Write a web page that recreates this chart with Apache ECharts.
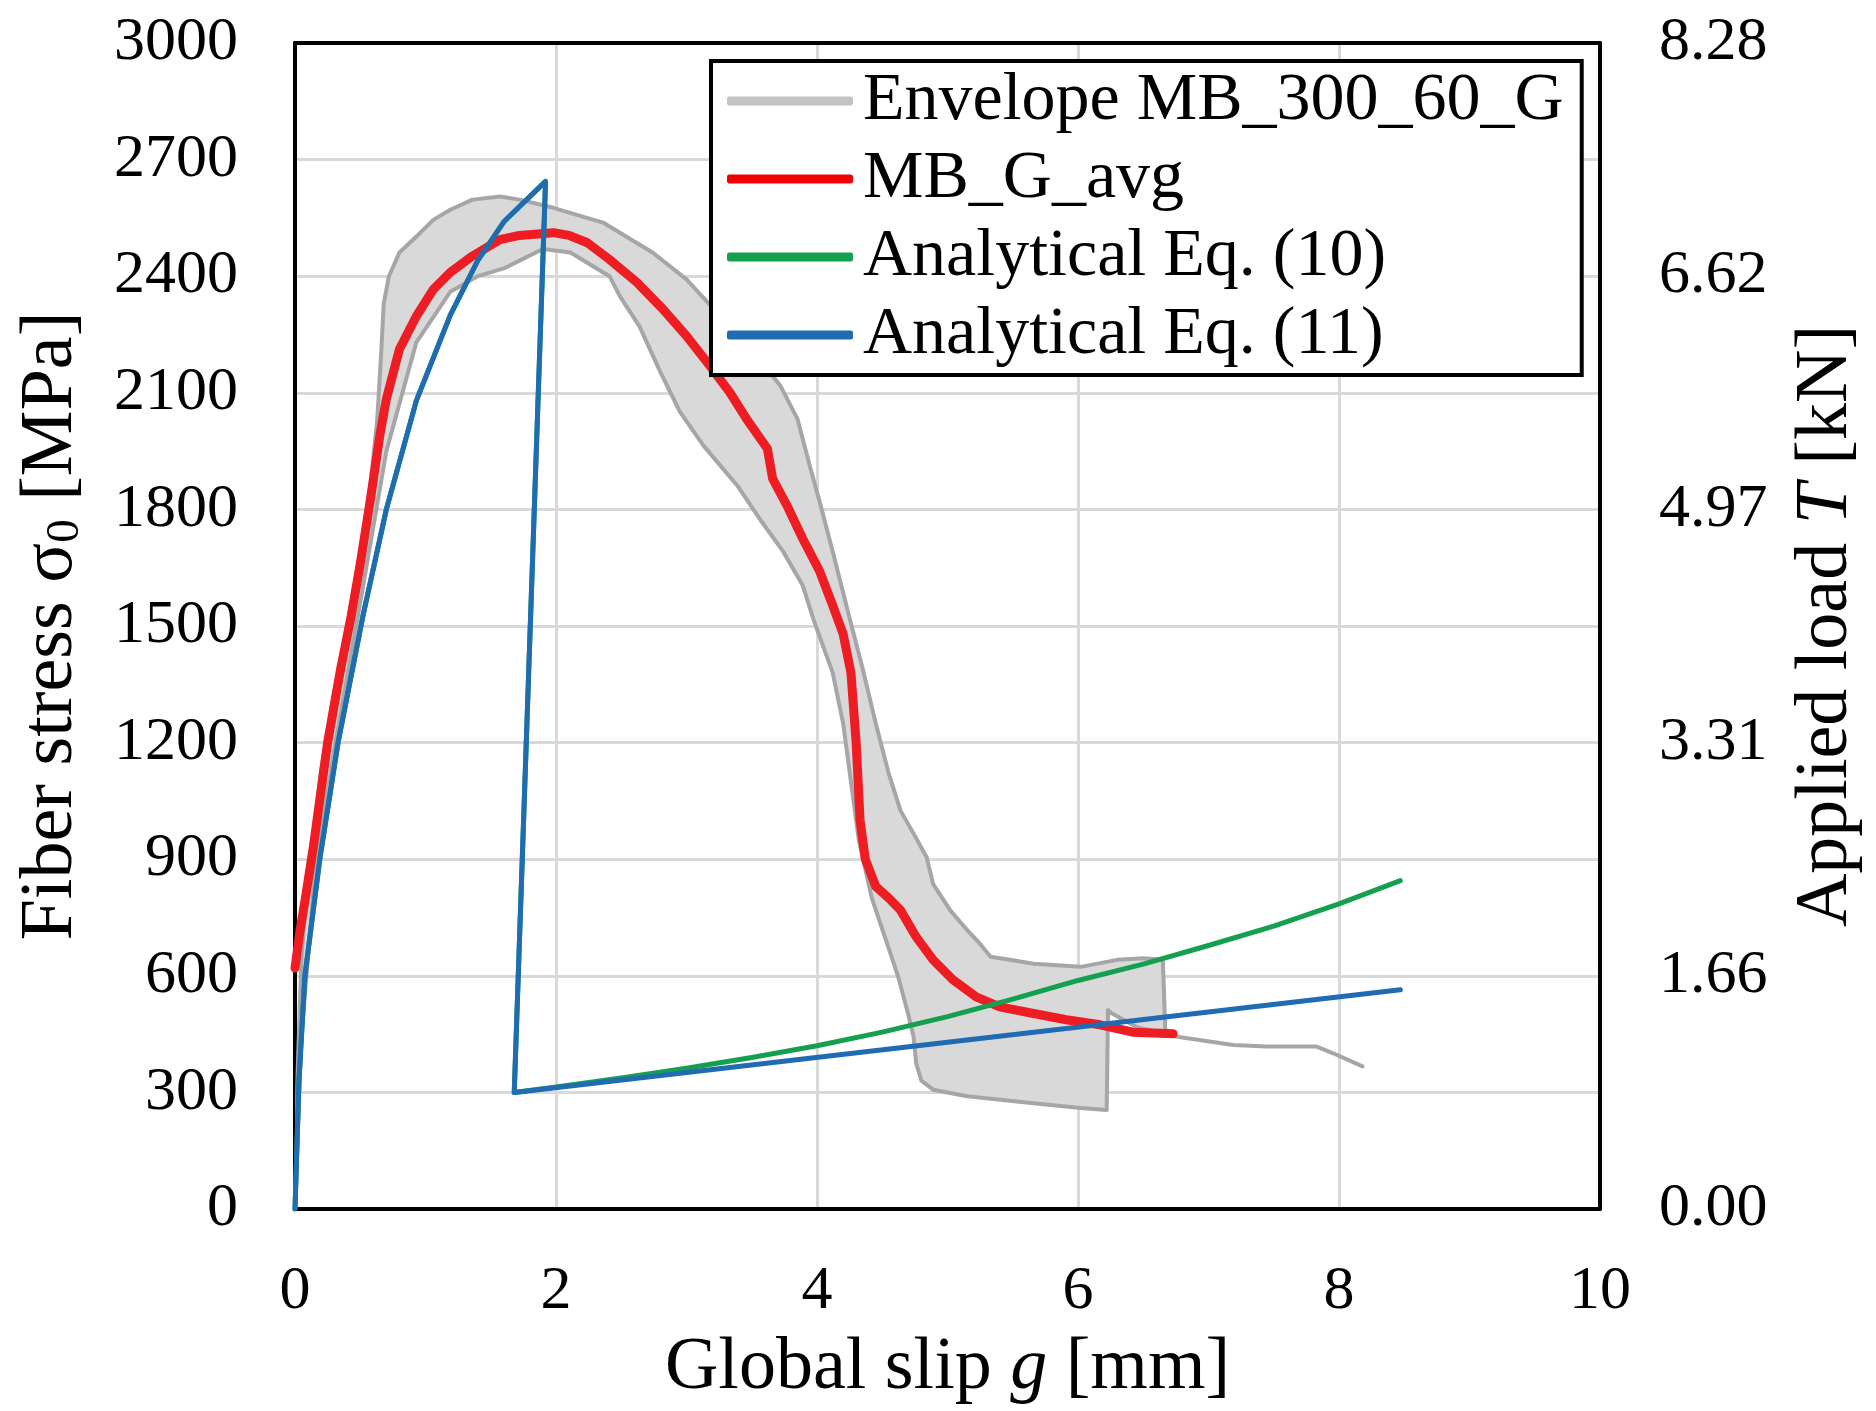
<!DOCTYPE html>
<html><head><meta charset="utf-8">
<script src="https://cdn.jsdelivr.net/npm/echarts@6/dist/echarts.min.js"></script>
<style>html,body{margin:0;padding:0;background:#fff}#c{width:1876px;height:1411px}</style>
</head><body><div id="c"></div>
<script>
// ---- data ----
const X_TICKS = [0, 2, 4, 6, 8, 10];
const STRESS_TICKS = [0, 300, 600, 900, 1200, 1500, 1800, 2100, 2400, 2700, 3000];
const LOAD_TICKS = ['0.00', '1.66', '3.31', '4.97', '6.62', '8.28'];

// Envelope MB_300_60_G : closed outline (upper boundary rightwards, tail, lower boundary back)
const ENV_X = [0, 0.02, 0.05, 0.1, 0.2, 0.3, 0.4, 0.5, 0.58, 0.63, 0.66, 0.68, 0.72, 0.8, 0.93, 1.06, 1.19, 1.36, 1.57, 1.72, 1.98, 2.36, 2.74, 3.0, 3.26, 3.51, 3.72, 3.85, 3.95, 4.02, 4.12, 4.25, 4.35, 4.45, 4.55, 4.64, 4.75, 4.84, 4.89, 5.02, 5.15, 5.25, 5.33, 5.5, 5.66, 6.02, 6.3, 6.5, 6.65, 6.67,
  6.76, 6.93, 7.19, 7.45, 7.83, 7.96, 8.18, 7.96, 7.83, 7.45, 7.19, 6.93, 6.76, 6.67,
  6.45, 6.25, 6.23, 6.22, 6.02, 5.66, 5.15, 4.89, 4.8, 4.76, 4.74, 4.7, 4.62, 4.52, 4.42, 4.32, 4.26, 4.2, 4.12, 3.97, 3.89, 3.74, 3.56, 3.39, 3.13, 2.95, 2.8, 2.64, 2.49, 2.41, 2.11, 1.9, 1.72, 1.6, 1.4, 1.19, 0.93, 0.7, 0.5, 0.3, 0.15, 0.05, 0];
const ENV_Y = [0, 350, 650, 850, 1130, 1330, 1500, 1680, 1870, 2030, 2200, 2330, 2400, 2461, 2502, 2545, 2571, 2597, 2605, 2597, 2576, 2538, 2461, 2392, 2297, 2204, 2118, 2033, 1905, 1820, 1692, 1520, 1390, 1250, 1120, 1025, 960, 905, 836, 769, 718, 682, 649, 640, 631, 623, 641, 645, 641, 451,
  443, 435, 422, 418, 418, 400, 367, 400, 418, 418, 422, 435, 443, 451,
  468, 505, 512, 255, 260, 272, 290, 307, 330, 375, 443, 500, 600, 700, 800, 950, 1100, 1250, 1380, 1520, 1605, 1692, 1776, 1861, 1964, 2051, 2153, 2271, 2348, 2400, 2461, 2470, 2440, 2420, 2400, 2360, 2230, 1950, 1560, 1180, 850, 450, 0];

// MB_G_avg
const AVG_X = [0.0, 0.04, 0.08, 0.14, 0.25, 0.35, 0.43, 0.5, 0.58, 0.65, 0.7, 0.8, 0.93, 1.06, 1.19, 1.35, 1.57, 1.72, 1.98, 2.1, 2.24, 2.41, 2.62, 2.82, 3.0, 3.18, 3.33, 3.46, 3.62, 3.66, 3.77, 3.89, 4.02, 4.12, 4.2, 4.26, 4.3, 4.33, 4.37, 4.45, 4.55, 4.64, 4.76, 4.89, 5.04, 5.22, 5.4, 5.66, 5.91, 6.17, 6.42, 6.73];
const AVG_Y = [620, 720, 800, 930, 1200, 1390, 1525, 1660, 1830, 1990, 2084, 2212, 2297, 2366, 2410, 2450, 2494, 2505, 2512, 2505, 2486, 2443, 2384, 2315, 2246, 2169, 2102, 2033, 1956, 1879, 1810, 1725, 1641, 1553, 1480, 1380, 1200, 1000, 900, 830, 800, 769, 700, 641, 590, 546, 520, 503, 487, 474, 455, 451];

// Analytical Eq. (10)
const EQ10_X = [0, 0.03, 0.076, 0.19, 0.33, 0.52, 0.7, 0.93, 1.19, 1.4, 1.6, 1.92, 1.68, 2.0, 2.5, 3.0, 3.5, 4.0, 4.5, 5.0, 5.5, 6.0, 6.5, 7.0, 7.5, 8.0, 8.47];
const EQ10_Y = [0, 330, 600, 900, 1200, 1525, 1800, 2080, 2300, 2440, 2540, 2644, 300, 314, 337, 362, 390, 420, 455, 495, 540, 588, 630, 678, 728, 785, 845];

// Analytical Eq. (11)
const EQ11_X = [0, 0.03, 0.076, 0.19, 0.33, 0.52, 0.7, 0.93, 1.19, 1.4, 1.6, 1.92, 1.68, 8.47];
const EQ11_Y = [0, 330, 600, 900, 1200, 1525, 1800, 2080, 2300, 2440, 2540, 2644, 300, 564];

const SERIES_NAMES = ['Envelope MB_300_60_G', 'MB_G_avg', 'Analytical Eq. (10)', 'Analytical Eq. (11)'];

// ---- chart ----
const FONT = '"Liberation Serif", "Times New Roman", serif';
const zip = (xs, ys) => xs.map((x, i) => [x, ys[i]]);

const chart = echarts.init(document.getElementById('c'), null, { renderer: 'canvas' });
const tickFont = { fontFamily: FONT, fontSize: 62, color: '#000' };
const nameFont = { fontFamily: FONT, fontSize: 74, color: '#000' };

chart.setOption({
  backgroundColor: '#fff',
  animation: false,
  grid: { left: 295, right: 276, top: 43, bottom: 198, show: false },
  legend: {
    left: 711, top: 61, orient: 'vertical',
    backgroundColor: '#fff', borderColor: '#000', borderWidth: 4,
    padding: [6, 18, 6, 16],
    itemWidth: 126, itemHeight: 9, itemGap: 10,
    textStyle: { fontFamily: FONT, fontSize: 68, color: '#000', padding: [0, 0, 0, 5] },
    data: [
      { name: SERIES_NAMES[0], icon: 'roundRect', itemStyle: { color: '#c3c3c3', borderWidth: 0 } },
      { name: SERIES_NAMES[1], icon: 'roundRect', itemStyle: { color: '#f00000', borderWidth: 0 } },
      { name: SERIES_NAMES[2], icon: 'roundRect', itemStyle: { color: '#15a050', borderWidth: 0 } },
      { name: SERIES_NAMES[3], icon: 'roundRect', itemStyle: { color: '#1f6cb2', borderWidth: 0 } }
    ]
  },
  xAxis: [{
    type: 'value', min: 0, max: 10, interval: 2, position: 'bottom',
    name: 'Global slip {i|g} [mm]', nameLocation: 'middle', nameGap: 123,
    nameTextStyle: Object.assign({}, nameFont, { rich: { i: Object.assign({}, nameFont, { fontStyle: 'italic' }) } }),
    axisLine: { show: true, onZero: false, lineStyle: { color: '#000', width: 4 } },
    axisTick: { show: false },
    axisLabel: Object.assign({ margin: 52, formatter: (v) => String(v) }, tickFont),
    splitLine: { show: true, lineStyle: { color: '#d9d9d9', width: 3 } }
  }, {
    type: 'value', min: 0, max: 10, interval: 2, position: 'top',
    axisLine: { show: true, onZero: false, lineStyle: { color: '#000', width: 4 } },
    axisTick: { show: false }, axisLabel: { show: false }, splitLine: { show: false }
  }],
  yAxis: [{
    type: 'value', min: 0, max: 3000, interval: 300, position: 'left',
    name: 'Fiber stress σ{s|0} [MPa]', nameLocation: 'middle', nameGap: 206, nameRotate: 90,
    nameTextStyle: Object.assign({}, nameFont, { rich: { s: Object.assign({}, nameFont, { fontSize: 47, verticalAlign: 'bottom', lineHeight: 62 }) } }),
    axisLine: { show: true, onZero: false, lineStyle: { color: '#000', width: 4 } },
    axisTick: { show: false },
    axisLabel: Object.assign({ margin: 57, formatter: (v) => String(v) }, tickFont),
    splitLine: { show: true, lineStyle: { color: '#d9d9d9', width: 3 } }
  }, {
    type: 'value', min: 0, max: 8.28, interval: 1.656, position: 'right',
    name: 'Applied load {i|T} [kN]', nameLocation: 'middle', nameGap: 190, nameRotate: 90,
    nameTextStyle: Object.assign({}, nameFont, { rich: { i: Object.assign({}, nameFont, { fontStyle: 'italic' }) } }),
    axisLine: { show: true, onZero: false, lineStyle: { color: '#000', width: 4 } },
    axisTick: { show: false },
    axisLabel: Object.assign({ margin: 59, formatter: (v) => LOAD_TICKS[Math.round(v / 1.656)] }, tickFont),
    splitLine: { show: false }
  }],
  series: [
    {
      name: SERIES_NAMES[0], type: 'custom', xAxisIndex: 0, yAxisIndex: 0, clip: true, z: 1,
      data: [[ENV_X[0], ENV_Y[0]]],
      encode: { x: 0, y: 1 },
      renderItem: function (params, api) {
        const pts = ENV_X.map((x, i) => api.coord([x, ENV_Y[i]]));
        return {
          type: 'polygon',
          shape: { points: pts },
          style: { fill: '#d9d9d9', stroke: '#a6a6a6', lineWidth: 4, lineJoin: 'round' }
        };
      }
    },
    {
      name: SERIES_NAMES[1], type: 'line', xAxisIndex: 0, yAxisIndex: 0, showSymbol: false, symbol: 'none', z: 3,
      data: zip(AVG_X, AVG_Y),
      lineStyle: { color: '#ee1c23', width: 9, cap: 'round', join: 'round' }, itemStyle: { color: '#f00000' }
    },
    {
      name: SERIES_NAMES[2], type: 'line', xAxisIndex: 0, yAxisIndex: 0, showSymbol: false, symbol: 'none', z: 4,
      data: zip(EQ10_X, EQ10_Y),
      lineStyle: { color: '#15a050', width: 5, cap: 'round', join: 'round' }, itemStyle: { color: '#15a050' }
    },
    {
      name: SERIES_NAMES[3], type: 'line', xAxisIndex: 0, yAxisIndex: 0, showSymbol: false, symbol: 'none', z: 5,
      data: zip(EQ11_X, EQ11_Y),
      lineStyle: { color: '#1f6cb2', width: 5, cap: 'round', join: 'round' }, itemStyle: { color: '#1f6cb2' }
    }
  ]
});
</script></body></html>
